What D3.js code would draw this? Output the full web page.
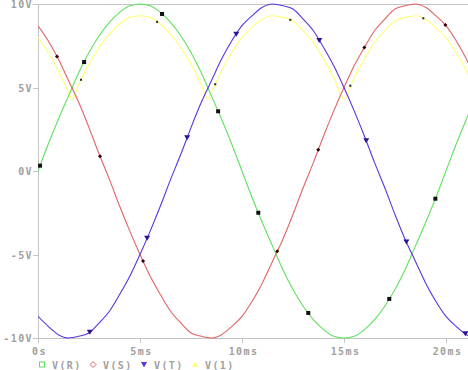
<!DOCTYPE html>
<html>
<head>
<meta charset="utf-8">
<script src="https://cdn.jsdelivr.net/npm/d3@7"></script>
<style>
  body { margin: 0; background: #fff; }
  svg { display: block; }
  .lbl { font-family: "DejaVu Sans Mono", monospace; font-size: 10px; font-weight: bold; fill: #a0a0a0; letter-spacing: 1.4px; }
</style>
</head>
<body>
<script>
// time grid in ms
const tMs = [0,0.5,1,1.5,2,2.5,3,3.5,4,4.5,5,5.5,6,6.5,7,7.5,8,8.5,9,9.5,10,10.5,
  11,11.5,12,12.5,13,13.5,14,14.5,15,15.5,16,16.5,17,17.5,18,18.5,19,19.5,20,20.5,21,21.5]

const vR = [0.0,1.6,3.1,4.5,5.9,7.1,8.1,8.9,9.5,9.9,10.0,9.9,9.5,8.9,8.1,7.1,5.9,4.5,3.1,1.6,0.0,
  -1.6,-3.1,-4.5,-5.9,-7.1,-8.1,-8.9,-9.5,-9.9,-10.0,-9.9,-9.5,-8.9,-8.1,-7.1,-5.9,-4.5,-3.1,-1.6,0.0,1.6,3.1,4.5]
const vS = [8.7,7.8,6.7,5.4,4.1,2.6,1.0,-0.5,-2.1,-3.6,-5.0,-6.3,-7.4,-8.4,-9.1,-9.7,-9.9,-10.0,-9.8,-9.3,-8.7,
  -7.8,-6.7,-5.4,-4.1,-2.6,-1.0,0.5,2.1,3.6,5.0,6.3,7.4,8.4,9.1,9.7,9.9,10.0,9.8,9.3,8.7,7.8,6.7,5.4]
const vT = [-8.7,-9.3,-9.8,-10.0,-9.9,-9.7,-9.1,-8.4,-7.4,-6.3,-5.0,-3.6,-2.1,-0.5,1.0,2.6,4.1,5.4,6.7,7.8,8.7,
  9.3,9.8,10.0,9.9,9.7,9.1,8.4,7.4,6.3,5.0,3.6,2.1,0.5,-1.0,-2.6,-4.1,-5.4,-6.7,-7.8,-8.7,-9.3,-9.8,-10.0]

// V(1) has its own time points (dips where phases cross)
const t1 = [0,0.5,1,1.5,1.667,2,2.5,3,3.5,4,4.5,5,5.5,6,6.5,7,7.5,8,8.333,8.5,9,9.5,10,10.5,
  11,11.5,12,12.5,13,13.5,14,14.5,15,15.5,16,16.5,17,17.5,18,18.5,19,19.5,20,20.5,21,21.5]
const v1 = [8.0,7.1,6.0,4.7,4.3,5.2,6.4,7.4,8.2,8.8,9.2,9.3,9.2,8.8,8.2,7.4,6.4,5.2,4.3,4.7,6.0,7.1,8.0,8.6,
  9.1,9.3,9.2,9.0,8.4,7.7,6.7,5.6,4.3,5.6,6.7,7.7,8.4,9.0,9.2,9.3,9.1,8.6,8.0,7.1,6.0,4.7]

// where the symbols sit on each trace (ms)
const markR = [0.1,2.26,6.08,8.83,10.8,13.25,17.22,19.48]
const markS = [0.93,3.04,5.15,11.73,13.74,16.0,19.97]
const markT = [2.54,5.35,7.31,9.72,13.79,16.09,18.06,20.95]
const mark1 = [2.11,5.84,8.69,12.37,15.31,18.89]

const xTicks = [0,5,10,15,20]
const xTickLabels = ['0s','5ms','10ms','15ms','20ms']
const yTicks = [-10,-5,0,5,10]
const yTickLabels = ['-10V','-5V','0V','5V','10V']
const legendNames = ['V(R)','V(S)','V(T)','V(1)']

const W = 468, H = 370
const padL = 38, padT = 4, padB = 338

const x = d3.scaleLinear().domain([0, 21.08]).range([padL, W])
const y = d3.scaleLinear().domain([-10, 10]).range([padB, padT])

const svg = d3.select('body').append('svg')
  .attr('width', W)
  .attr('height', H)

svg.append('clipPath').attr('id', 'plot')
  .append('rect').attr('x', padL).attr('y', padT - 1).attr('width', W - padL).attr('height', padB - padT + 2)

// frame
const gray = '#c4c4c4'
svg.append('line').attr('x1', padL).attr('x2', W).attr('y1', padT + 0.5).attr('y2', padT + 0.5).attr('stroke', gray)
svg.append('line').attr('x1', padL).attr('x2', W).attr('y1', padB + 0.5).attr('y2', padB + 0.5).attr('stroke', gray)
svg.append('line').attr('x1', padL + 0.5).attr('x2', padL + 0.5).attr('y1', padT).attr('y2', padB + 1).attr('stroke', gray)

// y ticks
yTicks.forEach((v, i) => {
  const yy = Math.round(y(v)) + 0.5
  svg.append('line').attr('x1', padL - 5).attr('x2', padL).attr('y1', yy).attr('y2', yy).attr('stroke', gray)
  svg.append('text').attr('class', 'lbl')
    .attr('x', padL - 5).attr('y', yy + 3.5)
    .attr('text-anchor', 'end')
    .text(yTickLabels[i])
})

// x ticks
xTicks.forEach((v, i) => {
  const xx = Math.round(x(v)) + 0.5
  svg.append('line').attr('x1', xx).attr('x2', xx).attr('y1', padB).attr('y2', padB + 5).attr('stroke', gray)
  svg.append('text').attr('class', 'lbl')
    .attr('x', xx + 1).attr('y', padB + 17)
    .attr('text-anchor', 'middle')
    .text(xTickLabels[i])
})

const traces = [
  { t: tMs, v: vR, color: '#5fe05f', marks: markR, sym: 'square' },
  { t: tMs, v: vS, color: '#e26464', marks: markS, sym: 'diamond' },
  { t: tMs, v: vT, color: '#5a34e2', marks: markT, sym: 'down' },
  { t: t1, v: v1, color: '#ffff78', marks: mark1, sym: 'dot' }
]

const line = d3.line()
  .x(d => x(d[0]))
  .y(d => y(d[1]))
  .curve(d3.curveMonotoneX)

const plot = svg.append('g').attr('clip-path', 'url(#plot)')

// yellow first so the phases sit on top of it
const order = [3, 0, 1, 2]
order.forEach(k => {
  const tr = traces[k]
  const pts = tr.t.map((t, i) => [t, tr.v[i]])
  plot.append('path')
    .attr('d', line(pts))
    .attr('fill', 'none')
    .attr('stroke', tr.color)
    .attr('stroke-width', 1.1)
})

function valueAt(tr, t) {
  const i = d3.bisectRight(tr.t, t)
  const i0 = Math.max(0, i - 1), i1 = Math.min(tr.t.length - 1, i)
  if (i0 == i1) return tr.v[i0]
  const f = (t - tr.t[i0]) / (tr.t[i1] - tr.t[i0])
  return tr.v[i0] + f * (tr.v[i1] - tr.v[i0])
}

function symbol(g, sym, cx, cy) {
  if (sym == 'square') {
    g.append('rect').attr('x', cx - 2).attr('y', cy - 2).attr('width', 4).attr('height', 4).attr('fill', '#111')
  } else if (sym == 'diamond') {
    g.append('path').attr('d', `M${cx},${cy - 2}L${cx + 2},${cy}L${cx},${cy + 2}L${cx - 2},${cy}Z`).attr('fill', '#300')
  } else if (sym == 'down') {
    g.append('path').attr('d', `M${cx - 3},${cy - 2.5}L${cx + 3},${cy - 2.5}L${cx},${cy + 2.5}Z`).attr('fill', '#2a1490')
  } else {
    g.append('rect').attr('x', cx - 1).attr('y', cy - 1).attr('width', 2).attr('height', 2).attr('fill', '#222')
  }
}

traces.forEach(tr => {
  tr.marks.forEach(t => {
    symbol(plot, tr.sym, x(t), y(valueAt(tr, t)))
  })
})

// legend (sits at the very bottom edge, as in the original)
const legend = svg.append('g')
traces.forEach((tr, i) => {
  const sx = 42 + i * 51, sy = 364.5
  if (tr.sym == 'square') {
    legend.append('rect').attr('x', sx - 2.5).attr('y', sy - 2.5).attr('width', 5).attr('height', 5)
      .attr('fill', 'none').attr('stroke', tr.color)
  } else if (tr.sym == 'diamond') {
    legend.append('path').attr('d', `M${sx},${sy - 3}L${sx + 3},${sy}L${sx},${sy + 3}L${sx - 3},${sy}Z`)
      .attr('fill', 'none').attr('stroke', tr.color)
  } else if (tr.sym == 'down') {
    legend.append('path').attr('d', `M${sx - 3},${sy - 2.5}L${sx + 3},${sy - 2.5}L${sx},${sy + 3}Z`)
      .attr('fill', tr.color)
  } else {
    legend.append('path').attr('d', `M${sx - 3},${sy + 2.5}L${sx + 3},${sy + 2.5}L${sx},${sy - 3}Z`)
      .attr('fill', tr.color)
  }
  legend.append('text').attr('class', 'lbl')
    .attr('x', sx + 10).attr('y', sy + 4)
    .text(legendNames[i])
})
</script>
</body>
</html>
